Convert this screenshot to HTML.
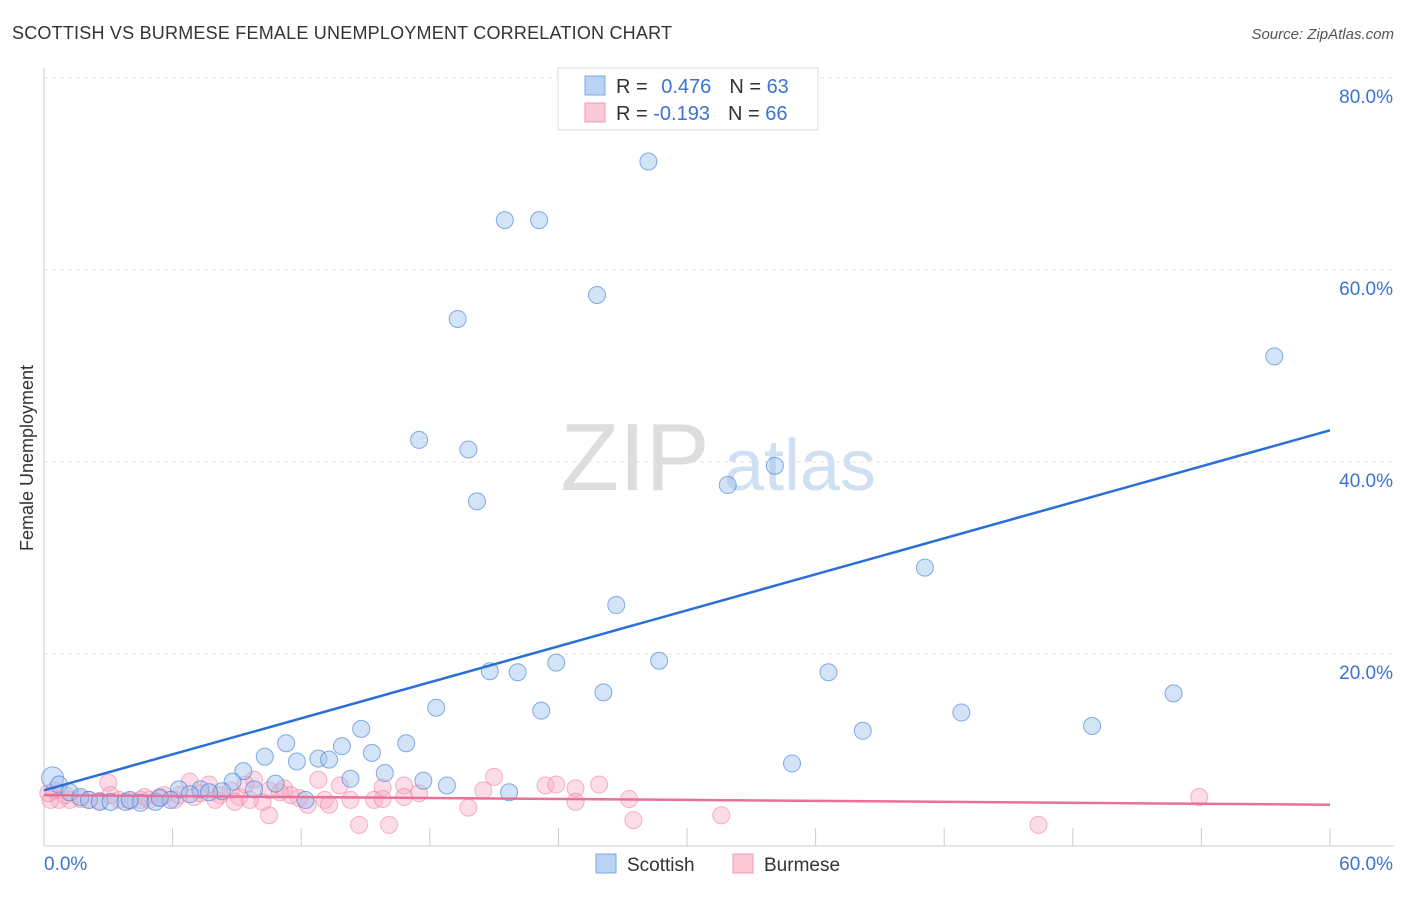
<!DOCTYPE html>
<html><head><meta charset="utf-8"><style>
body{margin:0;background:#fff;font-family:"Liberation Sans",sans-serif}
svg text{font-family:"Liberation Sans",sans-serif}
</style></head><body>
<svg id="chart" width="1406" height="892">
<text x="12" y="39" font-size="18" fill="#333" textLength="660">SCOTTISH VS BURMESE FEMALE UNEMPLOYMENT CORRELATION CHART</text>
<text x="1394" y="39" font-size="15" fill="#555" font-style="italic" text-anchor="end">Source: ZipAtlas.com</text>
<text x="33" y="458" font-size="18" fill="#333" text-anchor="middle" transform="rotate(-90 33 458)">Female Unemployment</text>
<g><text x="635" y="490" font-size="96" fill="#ddd" font-family="Liberation Serif" text-anchor="middle">ZIP</text><text x="800" y="490" font-size="72" fill="#cfe0f3" text-anchor="middle">atlas</text></g>
<g id="grid"></g><g id="marks"></g>
<g>
<rect x="558" y="68" width="260" height="62" fill="#fff" stroke="#ddd"/>
<rect x="585" y="76" width="20" height="19" fill="#b9d3f5" stroke="#7aa7e6"/>
<rect x="585" y="103" width="20" height="19" fill="#fcc8d6" stroke="#f29bb3"/>
<text x="616" y="93" font-size="20" fill="#333">R = <tspan fill="#3a73d0" dx="8">0.476</tspan><tspan dx="18">N = </tspan><tspan fill="#3a73d0">63</tspan></text>
<text x="616" y="120" font-size="20" fill="#333">R = <tspan fill="#3a73d0">-0.193</tspan><tspan dx="18">N = </tspan><tspan fill="#3a73d0">66</tspan></text>
</g>
<g>
<rect x="596" y="854" width="20" height="19" fill="#b9d3f5" stroke="#7aa7e6"/>
<text x="627" y="871" font-size="19" fill="#333">Scottish</text>
<rect x="733" y="854" width="20" height="19" fill="#fcc8d6" stroke="#f29bb3"/>
<text x="764" y="871" font-size="19" fill="#333">Burmese</text>
</g>
</svg>
<script>
const yTicks=[20,40,60,80];
const yTickLabels=["20.0%","40.0%","60.0%","80.0%"];
const xTicks=[0,6,12,18,24,30,36,42,48,54,60];
const scottishX=[28.2,21.5,23.1,25.8,19.3,57.4,17.5,19.8,20.2,34.1,31.9,41.1,26.7,20.8,22.1,23.9,28.7,36.6,26.1,18.3,23.2,42.8,52.7,48.9,38.2,14.8,11.3,16.9,13.9,10.3,12.8,11.8,13.3,15.3,34.9,9.3,15.9,14.3,17.7,18.8,8.8,10.8,21.7,6.3,7.3,8.3,9.8,12.2,0.4,0.7,1.2,1.7,2.1,2.6,3.1,3.8,4.5,5.2,5.9,6.8,7.7,5.4,4.0];
const scottishY=[71.3,65.2,65.2,57.4,54.9,51.0,42.3,41.3,35.9,39.6,37.6,29.0,25.1,18.2,18.1,19.1,19.3,18.1,16.0,14.4,14.1,13.9,15.9,12.5,12.0,12.2,10.7,10.7,10.4,9.3,9.1,8.8,9.0,9.7,8.6,7.8,7.6,7.0,6.8,6.3,6.7,6.5,5.6,5.9,5.9,5.7,5.9,4.8,7.1,6.4,5.6,5.1,4.8,4.6,4.6,4.6,4.5,4.6,4.8,5.4,5.6,5.0,4.8];
const burmeseX=[3.0,6.8,7.7,9.8,12.8,15.8,16.8,21.0,23.4,23.9,24.8,25.9,27.3,24.8,10.5,12.3,14.7,16.1,19.8,27.5,31.6,46.4,53.9,20.5,13.8,11.2,8.7,9.1,10.2,7.3,8.2,6.1,5.4,4.9,4.5,4.0,3.5,2.6,2.1,1.7,1.2,0.7,0.3,0.5,1.0,6.3,9.4,11.9,13.1,13.3,14.3,15.4,17.5,15.8,16.8,10.5,11.5,3.1,4.7,5.6,7.0,8.0,8.9,9.6,11.0,0.2];
const burmeseY=[6.6,6.7,6.4,6.9,6.9,6.1,6.3,7.2,6.3,6.4,6.0,6.4,4.9,4.6,3.2,4.3,2.2,2.2,4.0,2.7,3.2,2.2,5.1,5.8,6.3,6.0,5.8,5.1,4.6,5.5,5.3,4.8,5.1,4.8,4.8,4.7,4.8,4.7,4.8,4.9,4.8,4.8,4.8,5.8,5.3,5.3,6.4,5.0,4.8,4.3,4.8,4.8,5.5,4.9,5.1,5.8,5.3,5.3,5.1,5.3,5.1,4.8,4.6,4.8,5.6,5.5];
const trendScottish=[5.8,43.3];
const trendBurmese=[5.3,4.3];
const X=v=>44+v*(1286/60), Y=v=>846-v*9.6;
const NS="http://www.w3.org/2000/svg";
function mk(t,a,p){const e=document.createElementNS(NS,t);for(const k in a)e.setAttribute(k,a[k]);p.appendChild(e);return e;}
const grid=document.getElementById('grid'),marks=document.getElementById('marks');
let ax=mk('line',{x1:44,y1:68,x2:44,y2:846,stroke:'#ccc'},grid);


let bx=mk('line',{x1:44,y1:846,x2:1394,y2:846,stroke:'#ccc'},grid);


yTicks.forEach((t,i)=>{
 const g=mk('line',{x1:44,y1:Y(t),x2:1394,y2:Y(t),stroke:'#e2e2e2','stroke-dasharray':'4,4'},grid);
 
 
 const l=mk('text',{x:1393,y:Y(t)+25,'font-size':19,fill:'#3a73d0','text-anchor':'end'},grid);
 l.textContent=yTickLabels[i];
 
 
});
xTicks.forEach(t=>{
 const k=mk('line',{x1:X(t),y1:828,x2:X(t),y2:846,stroke:'#ccc'},grid);
 
 
});
const x0=mk('text',{x:44,y:870,'font-size':19,fill:'#3a73d0'},grid);x0.textContent='0.0%';


const x1=mk('text',{x:1393,y:870,'font-size':19,fill:'#3a73d0','text-anchor':'end'},grid);x1.textContent='60.0%';


burmeseX.forEach((v,i)=>{
 const c=mk('circle',{cx:X(v),cy:Y(burmeseY[i]),r:8.5,fill:'rgba(248,170,195,0.4)',stroke:'rgba(238,130,165,0.6)','stroke-width':1},marks);
 
 
});
scottishX.forEach((v,i)=>{
 const c=mk('circle',{cx:X(v),cy:Y(scottishY[i]),r:(i==48?11:8.5),fill:'rgba(160,195,240,0.45)',stroke:'rgba(60,120,210,0.6)','stroke-width':1},marks);
 
 
});
const ts=mk('line',{x1:X(0),y1:Y(trendScottish[0]),x2:X(60),y2:Y(trendScottish[1]),stroke:'#2a6fd6','stroke-width':2.5},marks);


const tb=mk('line',{x1:X(0),y1:Y(trendBurmese[0]),x2:X(60),y2:Y(trendBurmese[1]),stroke:'#e8709a','stroke-width':2.5},marks);


</script>
</body></html>
